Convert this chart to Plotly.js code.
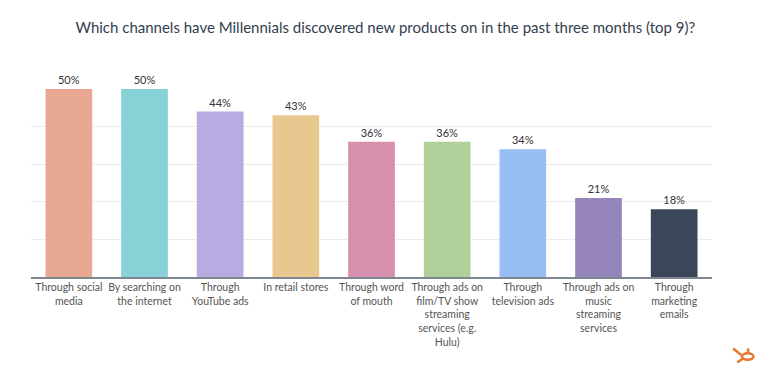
<!DOCTYPE html>
<html>
<head>
<meta charset="utf-8">
<script src="https://cdn.plot.ly/plotly-3.0.1.min.js"></script>
<style>html,body{margin:0;padding:0;background:#fff;}#chart{width:760px;height:384px;}</style>
</head>
<body>
<div id="chart"></div>
<script>
const categories = [
  "Through social<br>media",
  "By searching on<br>the internet",
  "Through<br>YouTube ads",
  "In retail stores",
  "Through word<br>of mouth",
  "Through ads on<br>film/TV show<br>streaming<br>services (e.g.<br>Hulu)",
  "Through<br>television ads",
  "Through ads on<br>music<br>streaming<br>services",
  "Through<br>marketing<br>emails"
];
const values = [50, 50, 44, 43, 36, 36, 34, 21, 18];
const valueLabels = ["50%", "50%", "44%", "43%", "36%", "36%", "34%", "21%", "18%"];
const barColors = ["#E8A891", "#88D1D7", "#B9AAE2", "#E9C890", "#D88FAE", "#B0CF99", "#98BEF3", "#9585BB", "#3B4758"];
const titleText = "Which channels have Millennials discovered new products on in the past three months (top 9)?";

const trace = {
  type: "bar",
  x: categories,
  y: values,
  text: valueLabels,
  textposition: "outside",
  cliponaxis: false,
  textfont: {family: "Lato, 'Open Sans', sans-serif", size: 11, color: "#333"},
  marker: {color: barColors, line: {width: 0}},
  hoverinfo: "skip"
};

const layout = {
  width: 760, height: 384,
  margin: {l: 31, r: 48, t: 89, b: 107},
  paper_bgcolor: "#fff", plot_bgcolor: "#fff",
  bargap: 0.383,
  showlegend: false,
  title: {
    text: titleText,
    x: 0.507, xanchor: "center",
    y: 0.927, yanchor: "middle",
    font: {family: "Lato, 'Open Sans', sans-serif", size: 15, color: "#33404f"}
  },
  xaxis: {
    type: "category",
    tickfont: {family: "Lato, 'Open Sans', sans-serif", size: 10.5, color: "#555"},
    showline: true, linecolor: "#7d8791", linewidth: 1.5,
    ticks: "", tickangle: 0, automargin: false,
    showgrid: false
  },
  yaxis: {
    range: [0, 50],
    dtick: 10,
    showticklabels: false,
    showgrid: true, gridcolor: "#ececec", gridwidth: 1,
    zeroline: false, showline: false, ticks: ""
  },
  shapes: [
    {type: "circle", xref: "paper", yref: "paper", x0: 1.044, x1: 1.061, y0: -0.44, y1: -0.406, line: {color: "#E8792F", width: 2.5}},
    {type: "line", xref: "paper", yref: "paper", x0: 1.043, x1: 1.031, y0: -0.415, y1: -0.38, line: {color: "#E8792F", width: 2.5}},
    {type: "line", xref: "paper", yref: "paper", x0: 1.053, x1: 1.053, y0: -0.406, y1: -0.38, line: {color: "#E8792F", width: 2.5}},
    {type: "line", xref: "paper", yref: "paper", x0: 1.045, x1: 1.037, y0: -0.435, y1: -0.455, line: {color: "#E8792F", width: 2.5}}
  ]
};

Plotly.newPlot("chart", [trace], layout, {displayModeBar: false, staticPlot: true});
</script>
</body>
</html>
